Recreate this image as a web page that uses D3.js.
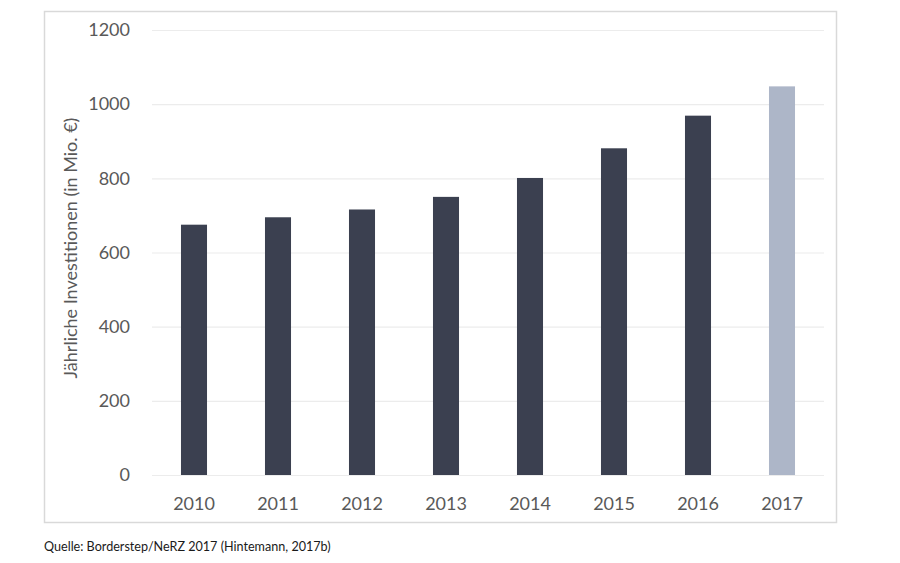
<!DOCTYPE html>
<html>
  <head>
    <title>Jährliche Investitionen</title>
    <script src="https://d3js.org/d3.v7.min.js"></script>
    <style>
      body { margin: 0; background: #fff; }
      text { font-family: Lato, "Open Sans", sans-serif; }
    </style>
  </head>
  <body>
    <script>
      var width = 900;
      var height = 563;
      var margin = {top: 30, left: 152, right: 76, bottom: 88};

      var years = ["2010","2011","2012","2013","2014","2015","2016","2017"];
      var values = [675, 695, 716, 750, 801, 881, 969, 1048];
      var forecast = ["2017"];
      var yTicks = [0, 200, 400, 600, 800, 1000, 1200];

      var svg = d3.select("body")
        .append("svg")
        .attr("width", width)
        .attr("height", height);

      // outer frame
      svg.append("rect")
        .attr("x", 44.5)
        .attr("y", 11.5)
        .attr("width", 792)
        .attr("height", 511)
        .attr("fill", "none")
        .attr("stroke", "#d9d9d9")
        .attr("stroke-width", 1.5);

      var xScale = d3.scaleBand()
        .domain(years)
        .range([margin.left, width - margin.right])
        .paddingInner(0.69)
        .paddingOuter(0.345);

      var yScale = d3.scaleLinear()
        .domain([0, 1200])
        .range([height - margin.bottom, margin.top]);

      var grid = svg.append("g")
        .attr("transform", `translate(${margin.left},0)`)
        .call(d3.axisLeft(yScale)
          .tickValues(yTicks)
          .tickSize(-(width - margin.left - margin.right))
          .tickFormat(""));
      grid.select(".domain").remove();
      grid.selectAll("line").attr("stroke", "#ececec").attr("stroke-width", 1.2);

      var yAxis = svg.append("g")
        .attr("transform", `translate(${margin.left},0)`)
        .call(d3.axisLeft(yScale).tickValues(yTicks).tickFormat(d3.format("d")).tickSize(0).tickPadding(22));
      yAxis.select(".domain").remove();
      yAxis.selectAll("text")
        .attr("fill", "#595959")
        .style("font-size", "18px");

      var data = years.map(function(y, i) { return {x: y, y: values[i]}; });

      svg.selectAll("rect.bar")
        .data(data)
        .enter()
        .append("rect")
          .attr("class", "bar")
          .attr("x", function(d) { return xScale(d.x); })
          .attr("y", function(d) { return yScale(d.y); })
          .attr("width", xScale.bandwidth())
          .attr("height", function(d) { return yScale(0) - yScale(d.y); })
          .attr("fill", function(d) { return forecast.indexOf(d.x) >= 0 ? "#adb6c8" : "#3b4050"; });

      var xAxis = svg.append("g")
        .attr("transform", `translate(0,${height - margin.bottom})`)
        .call(d3.axisBottom(xScale).tickSize(0).tickPadding(22));
      xAxis.select(".domain").remove();
      xAxis.selectAll("text")
        .attr("fill", "#595959")
        .style("font-size", "18px");

      svg.append("text")
        .attr("transform", "rotate(-90)")
        .attr("x", -248)
        .attr("y", 77)
        .attr("text-anchor", "middle")
        .attr("fill", "#595959")
        .style("font-size", "18px")
        .text("Jährliche Investitionen (in Mio. €)");

      svg.append("text")
        .attr("x", 44)
        .attr("y", 551)
        .attr("fill", "#1a1a1a")
        .style("font-size", "12.6px")
        .text("Quelle: Borderstep/NeRZ 2017 (Hintemann, 2017b)");
    </script>
  </body>
</html>
